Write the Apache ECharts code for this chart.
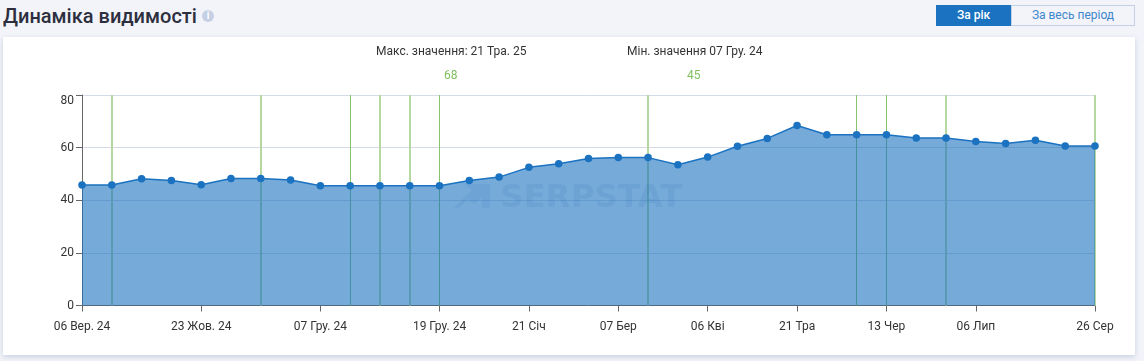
<!DOCTYPE html>
<html>
<head>
<meta charset="utf-8">
<script src="https://cdn.jsdelivr.net/npm/echarts@6/dist/echarts.min.js"></script>
<style>
  html, body { margin: 0; padding: 0; width: 1144px; height: 361px; background: #f2f4f9; overflow: hidden; font-family: Roboto, sans-serif; }
  .title { position: absolute; left: 3px; top: 3px; font-size: 20px; line-height: 26px; font-weight: 500; color: #2d2f3e; }
  .info { position: absolute; left: 202px; top: 10px; width: 12px; height: 12px; border-radius: 50%; background: #c5d0e3; color: #fff; font-size: 10px; line-height: 12px; font-weight: 700; text-align: center; }
  .btn { position: absolute; top: 5px; height: 21px; line-height: 21px; font-size: 12px; text-align: center; box-sizing: border-box; }
  .btn-on { left: 936px; width: 75px; background: #1a72c0; color: #fff; font-weight: 500; }
  .btn-off { left: 1011px; width: 124px; border: 1px solid #c3d0e4; line-height: 19px; color: #3f86cc; }
  .card { position: absolute; left: 3px; top: 37px; width: 1132px; height: 318px; background: #fff; box-shadow: 0 2px 5px rgba(150, 165, 200, 0.45); }
  #chart { position: absolute; left: 0; top: 0; width: 1144px; height: 361px; }
</style>
</head>
<body>
<div class="title">Динаміка видимості</div>
<div class="info">i</div>
<div class="btn btn-on">За рік</div>
<div class="btn btn-off">За весь період</div>
<div class="card"></div>
<div id="chart"></div>
<script>
const categories = [
  '06 Вер. 24', '', '', '', '23 Жов. 24', '', '', '', '07 Гру. 24', '', '', '',
  '19 Гру. 24', '', '', '21 Січ', '', '', '07 Бер', '', '', '06 Кві', '', '',
  '21 Тра', '', '', '13 Чер', '', '', '06 Лип', '', '', '', '26 Сер'
]
const visibility = [
  45.8, 45.8, 48.2, 47.5, 45.9, 48.3, 48.3, 47.7, 45.5, 45.5, 45.5, 45.5,
  45.5, 47.5, 48.8, 52.5, 53.9, 55.9, 56.2, 56.2, 53.5, 56.4, 60.5, 63.5,
  68.4, 64.9, 64.9, 64.9, 63.7, 63.7, 62.3, 61.6, 62.8, 60.6, 60.6
]
// indexes of the green vertical lines, the darker ones are listed apart
const updatesLight = [1, 6, 10, 11, 19, 29, 34]
const updatesDark = [9, 12, 26, 27]

const maxText = 'Макс. значення: 21 Тра. 25'
const minText = 'Мін. значення 07 Гру. 24'
const maxValue = '68'
const minValue = '45'

const chart = echarts.init(document.getElementById('chart'))

function updateLine(index, color, width) {
  return { xAxis: index, lineStyle: { color: color, width: width, type: 'solid' } }
}

chart.setOption({
  backgroundColor: 'transparent',
  animation: false,
  textStyle: { fontFamily: 'Roboto' },
  grid: { left: 82, right: 49, top: 95, bottom: 55.5 },
  graphic: [
    { type: 'text', left: 376, top: 45.5, style: { text: maxText, fontSize: 12, fontFamily: 'Roboto', fill: '#333' } },
    { type: 'text', left: 444, top: 69.5, style: { text: maxValue, fontSize: 12, fontFamily: 'Roboto', fill: '#7fbf60' } },
    { type: 'text', left: 627, top: 45.5, style: { text: minText, fontSize: 12, fontFamily: 'Roboto', fill: '#333' } },
    { type: 'text', left: 687, top: 69.5, style: { text: minValue, fontSize: 12, fontFamily: 'Roboto', fill: '#7fbf60' } },
    // watermark: logo and name
    { type: 'polygon', z: 10, shape: { points: [[454, 208], [472, 190], [464, 184], [490, 184], [490, 208], [482, 208], [482, 197], [474, 204], [468, 199], [459, 208]] }, style: { fill: 'rgba(26, 100, 175, 0.1)' } },
    { type: 'text', left: 500, top: 182, z: 10, style: { text: 'SERPSTAT', fontSize: 32.5, fontWeight: 700, fontFamily: 'DejaVu Sans', fill: 'rgba(26, 100, 175, 0.11)' } }
  ],
  xAxis: {
    type: 'category',
    data: categories,
    boundaryGap: false,
    axisLine: { lineStyle: { color: '#666', width: 1 } },
    axisTick: { length: 6, interval: (i, v) => v !== '', lineStyle: { color: '#666' } },
    axisLabel: { interval: (i, v) => v !== '', color: '#333', fontSize: 12, margin: 15, showMaxLabel: true, showMinLabel: true, hideOverlap: false }
  },
  yAxis: {
    type: 'value',
    min: 0,
    max: 80,
    interval: 20,
    axisLine: { show: true, lineStyle: { color: '#666', width: 1 } },
    axisTick: { show: true, length: 6, lineStyle: { color: '#666' } },
    axisLabel: { color: '#333', fontSize: 12, margin: 8, verticalAlignMaxLabel: 'top' },
    splitLine: { lineStyle: { color: '#d5dbe8', width: 1 } }
  },
  series: [
    {
      name: 'updates',
      type: 'line',
      z: 1,
      data: [],
      silent: true,
      markLine: {
        silent: true,
        z: 1,
        symbol: 'none',
        label: { show: false },
        data: updatesLight.map(i => updateLine(i, '#b5d8a0', 2)).concat(updatesDark.map(i => updateLine(i, '#85c46a', 1)))
      }
    },
    {
      name: 'visibility',
      type: 'line',
      z: 3,
      clip: false,
      data: visibility,
      symbol: 'circle',
      symbolSize: 7.5,
      showAllSymbol: true,
      lineStyle: { color: '#1a72c0', width: 1.5 },
      itemStyle: { color: '#1a72c0' },
      areaStyle: { color: '#1a72c0', opacity: 0.6 }
    }
  ]
})

window.addEventListener('resize', () => chart.resize())
</script>
</body>
</html>
